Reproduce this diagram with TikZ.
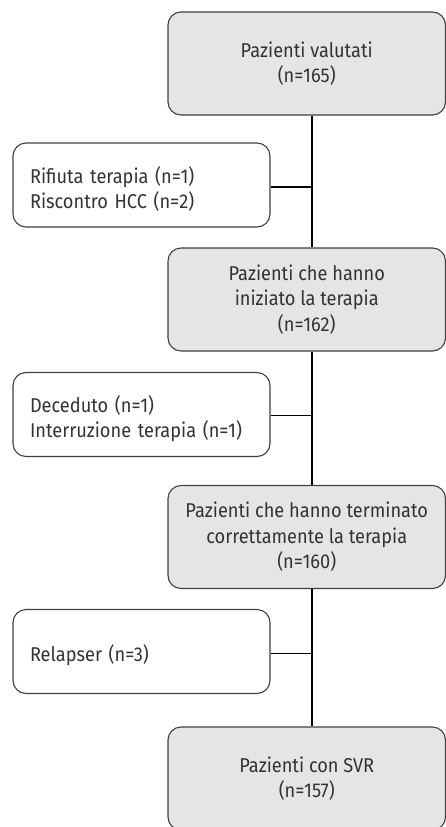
\documentclass[tikz,border=0pt]{standalone}
\usepackage{fontspec}
\setmainfont{Fira Sans}[FakeStretch=0.91]
\begin{document}
\begin{tikzpicture}[x=1pt,y=-1pt,
  every node/.style={font=\fontsize{20}{25.5}\selectfont, text=black!80},
  % a tall strut on the first line sets the text a little below the box centre
  lowered/.style={execute at begin node={\rule{0pt}{25pt}}},
  mainbox/.style={lowered, draw=black!75, line width=1.1pt, fill=black!10, rounded corners=13pt,
    minimum width=277.5pt, minimum height=103pt, align=center, inner sep=0pt},
  sidebox/.style={lowered, draw=black!75, line width=1.1pt, fill=white, rounded corners=13pt,
    text width=223pt, minimum height=84pt, align=left, inner xsep=17pt, inner ysep=0pt},
  link/.style={draw=black, line width=1.1pt}]
\useasboundingbox (0,0) rectangle (446,827);
% main flow
\node[mainbox] (b1) at (306.75,63.5) {Pazienti valutati\\(n=165)};
\node[mainbox] (b2) at (306.75,299.5) {Pazienti che hanno\\iniziato la terapia\\(n=162)};
\node[mainbox] (b3) at (306.75,537) {Pazienti che hanno terminato\\correttamente la terapia\\(n=160)};
\node[mainbox] (b4) at (306.75,778.5) {Pazienti con SVR\\(n=157)};
% exclusions
\node[sidebox] (s1) at (141.5,185) {Rifiuta terapia (n=1)\\Riscontro HCC (n=2)};
\node[sidebox] (s2) at (141.5,414.5) {Deceduto (n=1)\\Interruzione terapia (n=1)};
\node[sidebox] (s3) at (141.5,651.5) {Relapser (n=3)};
% trunk line
\coordinate (tx) at (312,0);
\draw[link] (b1.south -| tx) -- (b2.north -| tx);
\draw[link] (b2.south -| tx) -- (b3.north -| tx);
\draw[link] (b3.south -| tx) -- (b4.north -| tx);
% branches
\draw[link] ([yshift=-2pt]s1.east) -- ([yshift=-2pt]s1.east -| tx);
\draw[link] ([yshift=-1pt]s2.east) -- ([yshift=-1pt]s2.east -| tx);
\draw[link] ([yshift=-2pt]s3.east) -- ([yshift=-2pt]s3.east -| tx);
\end{tikzpicture}
\end{document}
